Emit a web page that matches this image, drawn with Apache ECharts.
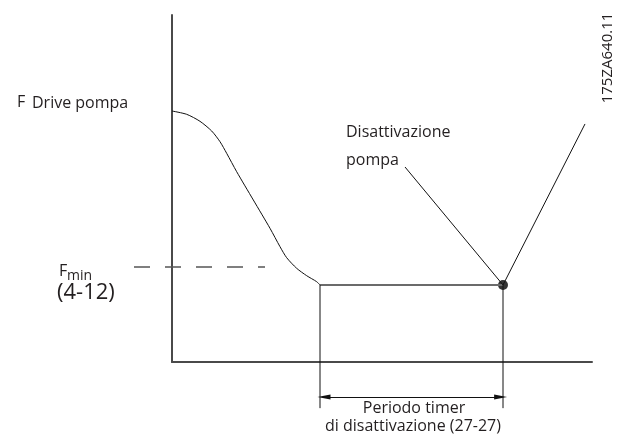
<!DOCTYPE html>
<html>
<head>
<meta charset="utf-8">
<script src="https://cdn.jsdelivr.net/npm/echarts@6/dist/echarts.min.js"></script>
<style>
  html, body { margin: 0; padding: 0; background: #fff; }
  #chart { width: 622px; height: 434px; }
</style>
</head>
<body>
<div id="chart"></div>
<script>
// Frequency curve of the pump (time units, % of axis height)
const rampX = [0, 3.67, 7, 9.92, 12, 13.67, 16.17, 20.33, 24.5, 27, 28.67, 31.17, 33.67, 36.17, 37];
const rampY = [72.33, 71.38, 69.36, 66.57, 63.49, 60.14, 54.84, 46.69, 38.53, 33.23, 30.06, 27.0, 24.87, 23.14, 22.2];
const flatX = [37, 82.75];
const flatLevel = 22.2;
const riseX = [82.75, 103.25];
const riseY = [22.2, 68.6];
// Fmin reference level (dashed)
const fminX = [-9.5, 23.25];
const fminLevel = 27.4;
// sleep point and its leader line from the label
const sleepPoint = [82.75, 22.2];
const leaderX = [58.25, 82.75];
const leaderY = [56.2, 22.2];
// timer span below the time axis
const timerStart = 37;
const timerEnd = 82.75;
const dropBottom = -13.3;
const arrowLevel = -10.1;

const chart = echarts.init(document.getElementById('chart'));
const FONT = '"Open Sans", "Noto Sans", sans-serif';
const TXT = '#231f20';

// main plot area and scale (px per unit)
const LEFT = 172, TOP = 15, XMAX = 105, YMAX = 100, PX_X = 4, PX_Y = 3.47;
// overlay grid: same scale, wider range so marks below/left of the axes are not cut
const OX_MIN = -10, OX_MAX = 107, OY_MIN = -15;

const hiddenAxis = { show: false };
const lineSeries = (xs, ys, opts) => Object.assign({
  type: 'line',
  xAxisIndex: 1, yAxisIndex: 1,
  data: xs.map((x, i) => [x, ys[i]]),
  symbol: 'none',
  silent: true,
  lineStyle: { color: '#111', width: 1 }
}, opts || {});

const axisStyle = {
  axisLine: { show: true, onZero: false, lineStyle: { color: '#4a4a4a', width: 2 } },
  axisTick: { show: false }, axisLabel: { show: false }, splitLine: { show: false }
};

const options = {
  animation: false,
  grid: [
    { left: LEFT, top: TOP, width: XMAX * PX_X, height: YMAX * PX_Y },
    {
      left: LEFT + OX_MIN * PX_X, top: TOP,
      width: (OX_MAX - OX_MIN) * PX_X, height: (YMAX - OY_MIN) * PX_Y
    }
  ],
  xAxis: [
    Object.assign({ type: 'value', gridIndex: 0, min: 0, max: XMAX }, axisStyle),
    Object.assign({ type: 'value', gridIndex: 1, min: OX_MIN, max: OX_MAX }, hiddenAxis)
  ],
  yAxis: [
    Object.assign({ type: 'value', gridIndex: 0, min: 0, max: YMAX }, axisStyle),
    Object.assign({ type: 'value', gridIndex: 1, min: OY_MIN, max: YMAX }, hiddenAxis)
  ],
  series: [
    lineSeries(rampX, rampY, { smooth: 0.25 }),
    lineSeries(flatX, flatX.map(() => flatLevel), { lineStyle: { color: '#6b6b6b', width: 2 } }),
    lineSeries(riseX, riseY),
    lineSeries(fminX, fminX.map(() => fminLevel), {
      lineStyle: { color: '#555', width: 1.5, type: [16, 15] }
    }),
    lineSeries(leaderX, leaderY),
    lineSeries([timerStart, timerStart], [flatLevel, dropBottom]),
    lineSeries([timerEnd, timerEnd], [flatLevel, dropBottom]),
    {
      type: 'line', xAxisIndex: 1, yAxisIndex: 1, data: [], silent: true,
      markLine: {
        silent: true,
        symbol: ['triangle', 'triangle'],
        symbolSize: [5, 13],
        label: { show: false },
        lineStyle: { color: '#111', width: 1, type: 'solid' },
        data: [[{ coord: [timerStart + 1, arrowLevel] }, { coord: [timerEnd - 0.6, arrowLevel] }]]
      }
    },
    {
      type: 'scatter', xAxisIndex: 1, yAxisIndex: 1, data: [sleepPoint], symbolSize: 10, silent: true,
      itemStyle: { color: '#000' }
    }
  ],
  graphic: [
    { type: 'text', x: 17, y: 102, style: { text: 'F', font: '16px ' + FONT, fill: TXT, verticalAlign: 'middle' } },
    { type: 'text', x: 32, y: 103, style: { text: 'Drive pompa', font: '16px ' + FONT, fill: TXT, verticalAlign: 'middle' } },
    { type: 'text', x: 59, y: 271, style: { text: 'F', font: '16px ' + FONT, fill: TXT, verticalAlign: 'middle' } },
    { type: 'text', x: 67, y: 276, style: { text: 'min', font: '14px ' + FONT, fill: TXT, verticalAlign: 'middle' } },
    { type: 'text', x: 57, y: 293, style: { text: '(4-12)', font: '22px ' + FONT, fill: TXT, verticalAlign: 'middle' } },
    { type: 'text', x: 346, y: 132, style: { text: 'Disattivazione', font: '16px ' + FONT, fill: TXT, verticalAlign: 'middle' } },
    { type: 'text', x: 346, y: 160, style: { text: 'pompa', font: '16px ' + FONT, fill: TXT, verticalAlign: 'middle' } },
    {
      type: 'text', x: 414, y: 408,
      style: { text: 'Periodo timer', font: '16px ' + FONT, fill: TXT, align: 'center', verticalAlign: 'middle' }
    },
    {
      type: 'text', x: 413, y: 426,
      style: { text: 'di disattivazione (27-27)', font: '16px ' + FONT, fill: TXT, align: 'center', verticalAlign: 'middle' }
    },
    {
      type: 'text', x: 608, y: 58, rotation: Math.PI / 2,
      style: { text: '175ZA640.11', font: '15px ' + FONT, fill: TXT, align: 'center', verticalAlign: 'middle' }
    }
  ]
};

chart.setOption(options);
</script>
</body>
</html>
